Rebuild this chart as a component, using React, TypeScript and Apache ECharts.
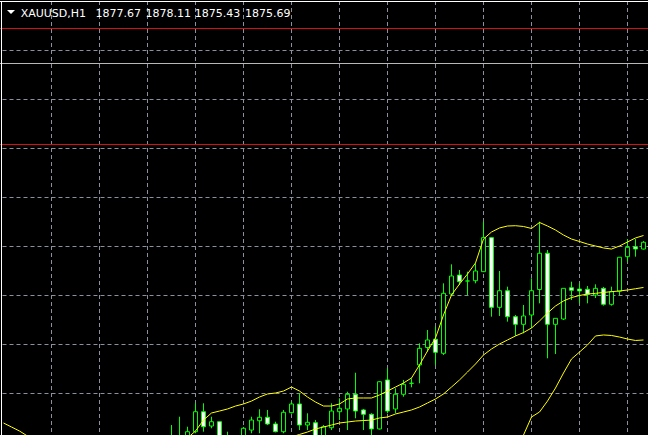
import React, { useEffect, useRef } from "react";
import * as echarts from "echarts";

// ---- data -------------------------------------------------------------
const symbolLabel = "XAUUSD,H1";
const lastBarOHLC = ["1877.67", "1878.11", "1875.43", "1875.69"];

// 81 hourly bars (index 0..80); null = bar lies completely below the visible range
const categories: string[] = Array.from({ length: 81 }, (_, i) => "bar " + i);

const opens: (number | null)[] = [
  null, null, null, null, null, null, null, null, null, null,
  null, null, null, null, null, null, null, null, null, null,
  null, 1860.51, 1860.51, 1860.2, 1861.05, 1863.09, 1861.63, 1862.07, 1859.69, null,
  1860.2, 1861.22, 1862.17, 1862.52, 1861.84, 1861.05, 1862.99, 1863.88, 1861.73, 1861.97,
  1860.41, 1861.46, 1863.09, 1863.37, 1864.87, 1863.27, 1862.83, 1861.33, 1866.33, 1863.37,
  1864.87, 1865.99, 1867.86, 1869.64, 1870.48, 1869.05, 1875.1, 1877.04, 1876.43, 1876.46,
  1877.38, 1880.85, 1873.74, 1875.44, 1872.79, 1872.01, 1872.96, 1875.56, 1879.26, 1872.01,
  1872.55, 1875.74, 1875.61, 1875.58, 1875.0, 1875.68, 1874.05, 1875.39, 1878.91, 1879.93,
  1879.69,
];
const closes: (number | null)[] = [
  null, null, null, null, null, null, null, null, null, null,
  null, null, null, null, null, null, null, null, null, null,
  null, 1859.59, 1859.59, 1861.05, 1863.09, 1861.56, 1862.07, 1860.2, 1860.41, null,
  1861.4, 1862.24, 1862.52, 1861.84, 1861.05, 1863.03, 1863.88, 1861.73, 1862.01, 1860.51,
  1861.56, 1863.16, 1863.44, 1864.87, 1863.16, 1862.83, 1861.33, 1866.15, 1863.16, 1864.87,
  1865.89, 1865.99, 1869.56, 1870.41, 1869.15, 1875.17, 1876.94, 1876.36, 1876.43, 1877.45,
  1880.85, 1873.74, 1875.44, 1872.79, 1872.01, 1872.86, 1875.44, 1879.26, 1872.01, 1872.62,
  1875.68, 1875.48, 1875.41, 1875.07, 1875.68, 1874.05, 1875.34, 1878.85, 1879.87, 1879.69,
  1880.38,
];
const lows: (number | null)[] = [
  null, null, null, null, null, null, null, null, null, null,
  null, null, null, null, null, null, null, null, null, null,
  null, 1859.18, 1859.18, 1859.8, 1860.89, 1861.05, 1861.4, 1859.69, 1859.39, null,
  1859.8, 1860.89, 1860.89, 1861.73, 1860.99, 1860.89, 1862.91, 1861.22, 1861.22, 1860.2,
  1860.2, 1861.22, 1862.24, 1861.22, 1862.42, 1861.22, 1860.71, 1861.28, 1862.93, 1862.93,
  1864.62, 1865.58, 1865.99, 1869.21, 1867.86, 1868.88, 1875.0, 1876.02, 1875.0, 1876.19,
  1877.35, 1872.79, 1872.86, 1872.28, 1870.82, 1871.09, 1871.63, 1874.15, 1868.54, 1868.98,
  1872.45, 1874.49, 1874.15, 1874.15, 1874.69, 1873.91, 1873.91, 1875.0, 1878.4, 1878.91,
  1879.64,
];
const highs: (number | null)[] = [
  null, null, null, null, null, null, null, null, null, null,
  null, null, null, null, null, null, null, null, null, null,
  null, 1861.73, 1862.58, 1861.56, 1863.95, 1863.95, 1862.58, 1862.1, 1861.05, null,
  1861.53, 1862.58, 1863.34, 1863.27, 1862.07, 1863.27, 1864.11, 1864.97, 1862.93, 1862.24,
  1861.73, 1863.95, 1864.46, 1865.13, 1867.07, 1863.37, 1862.93, 1866.22, 1867.52, 1865.48,
  1866.33, 1866.5, 1870.07, 1871.43, 1871.76, 1876.19, 1878.13, 1877.55, 1877.38, 1878.23,
  1882.48, 1880.89, 1877.45, 1875.85, 1872.96, 1873.98, 1876.7, 1882.48, 1879.59, 1872.62,
  1875.68, 1876.36, 1876.19, 1875.92, 1876.09, 1875.82, 1875.85, 1878.85, 1880.71, 1880.71,
  1880.51,
];

// Bollinger bands
const upperBand: (number | null)[] = [
  1861.94, 1861.53, 1861.12, 1860.61, null, null, null, null, null, null,
  null, null, null, null, null, null, null, null, null, null,
  null, null, null, 1860.41, 1861.12, 1862.24, 1862.96, 1863.16, 1863.37, 1863.67,
  1863.88, 1864.18, 1864.59, 1864.9, 1865.0, 1865.2, 1865.61, 1865.2, 1864.59, 1864.08,
  1863.67, 1863.67, 1863.88, 1864.39, 1864.49, 1864.49, 1864.49, 1864.8, 1865.2, 1865.61,
  1866.02, 1866.53, 1867.86, 1869.29, 1870.61, 1872.96, 1875.0, 1876.12, 1877.14, 1878.27,
  1880.71, 1881.43, 1881.84, 1882.04, 1882.07, 1881.99, 1881.79, 1882.4, 1882.04, 1881.63,
  1881.12, 1880.71, 1880.46, 1880.2, 1880.0, 1879.8, 1879.69, 1880.0, 1880.41, 1880.82,
  1881.07,
];
const middleBand: (number | null)[] = [
  null, null, null, null, null, null, null, null, null, null,
  null, null, null, null, null, null, null, null, null, null,
  null, null, null, null, null, null, null, null, null, null,
  null, null, null, null, 1859.9, 1860.2, 1860.51, 1860.77, 1861.02, 1861.33,
  1861.53, 1861.73, 1861.94, 1862.04, 1862.14, 1862.19, 1862.24, 1862.45, 1862.55, 1862.86,
  1863.06, 1863.27, 1863.57, 1863.98, 1864.39, 1864.9, 1865.61, 1866.33, 1867.14, 1867.96,
  1868.88, 1869.49, 1870.0, 1870.41, 1870.82, 1871.17, 1871.63, 1872.35, 1873.16, 1873.88,
  1874.39, 1874.74, 1874.95, 1875.1, 1875.17, 1875.26, 1875.34, 1875.41, 1875.51, 1875.64,
  1875.77,
];
const lowerBand: (number | null)[] = [
  null, null, null, null, null, null, null, null, null, null,
  null, null, null, null, null, null, null, null, null, null,
  null, null, null, null, null, null, null, null, null, null,
  null, null, null, null, null, null, null, null, null, null,
  null, null, null, null, null, null, null, null, null, null,
  null, null, null, null, null, null, null, null, null, null,
  null, null, null, null, 1858.98, 1860.71, 1862.55, 1863.06, 1864.18, 1865.51,
  1867.04, 1868.47, 1869.18, 1869.9, 1870.82, 1870.92, 1870.87, 1870.71, 1870.51, 1870.36,
  1870.41,
];

// horizontal price levels drawn on the chart
const redLevels = [1902.194, 1890.357];
const greyLevels = [1898.622];

// ---- styling ----------------------------------------------------------
const GRID_COLOR = "#8a909c";
const BULL_BEAR_LINE = "#00ff00";
const BAND_COLOR = "#ffff00";
const RED = "#d41010";
const GREY = "#b8b8b8";
const titleXs = [95.5, 145.5, 194.8, 245];

const EMPTY = ["-", "-", "-", "-"];

function buildOption() {
  // one empty category at each end, so the grid spans the whole picture
  const cats = ["pad-l", ...categories, "pad-r"];
  const candleData = [
    EMPTY,
    ...opens.map((o, i) =>
      o == null ? EMPTY : [o, closes[i], lows[i], highs[i]]
    ),
    EMPTY,
  ];
  const line = (arr: (number | null)[]) => ["-", ...arr.map((v) => (v == null ? "-" : v)), "-"];
  const bandSeries = (data: (number | null)[]) => ({
    type: "line",
    data: line(data),
    symbol: "none",
    silent: true,
    connectNulls: false,
    lineStyle: { color: BAND_COLOR, width: 1 },
    z: 4,
  });

  return {
    animation: false,
    backgroundColor: "#000000",
    grid: {
      left: -4.5,
      right: -3.5,
      top: -48,
      bottom: -56,
      containLabel: false,
      outerBoundsMode: "none",
    },
    xAxis: {
      type: "category",
      data: cats,
      boundaryGap: false,
      axisLine: { show: false },
      axisTick: { show: false },
      axisLabel: { show: false },
      splitLine: {
        show: true,
        interval: (idx: number) => idx > 1 && (idx - 1) % 6 === 0,
        lineStyle: { color: GRID_COLOR, width: 1, type: [4, 3] },
      },
    },
    yAxis: {
      type: "value",
      min: 1855,
      max: 1910,
      interval: 5,
      axisLine: { show: false },
      axisTick: { show: false },
      axisLabel: { show: false },
      splitLine: {
        show: true,
        lineStyle: { color: GRID_COLOR, width: 1, type: [4, 3] },
      },
    },
    series: [
      {
        type: "candlestick",
        data: candleData,
        barWidth: 4,
        silent: true,
        z: 3,
        itemStyle: {
          color: "#000000",
          color0: "#ffffff",
          borderColor: BULL_BEAR_LINE,
          borderColor0: BULL_BEAR_LINE,
          borderWidth: 1,
        },
        markLine: {
          silent: true,
          symbol: ["none", "none"],
          label: { show: false },
          data: [
            ...redLevels.map((v) => ({
              yAxis: v,
              lineStyle: { color: RED, width: 1, type: "solid" },
            })),
            ...greyLevels.map((v) => ({
              yAxis: v,
              lineStyle: { color: GREY, width: 1, type: "solid" },
            })),
          ],
        },
      },
      bandSeries(upperBand),
      bandSeries(middleBand),
      bandSeries(lowerBand),
    ],
    graphic: [
      {
        type: "line",
        silent: true,
        z: 100,
        shape: { x1: 0, y1: 1.5, x2: 648, y2: 1.5 },
        style: { stroke: "#ffffff", lineWidth: 1 },
      },
      {
        type: "line",
        silent: true,
        z: 100,
        shape: { x1: 1.5, y1: 1, x2: 1.5, y2: 435 },
        style: { stroke: "#ffffff", lineWidth: 1 },
      },
      {
        type: "polygon",
        silent: true,
        z: 100,
        shape: { points: [[7, 10], [15, 10], [11, 14]] },
        style: { fill: "#ffffff" },
      },
      {
        type: "text",
        silent: true,
        z: 100,
        x: 20.7,
        y: 13,
        style: {
          text: symbolLabel,
          fill: "#ffffff",
          fontSize: 11,
          fontFamily: "DejaVu Sans",
          verticalAlign: "middle",
        },
      },
      ...lastBarOHLC.map((t, i) => ({
        type: "text",
        silent: true,
        z: 100,
        x: titleXs[i],
        y: 13,
        style: {
          text: t,
          fill: "#ffffff",
          fontSize: 11,
          fontFamily: "DejaVu Sans",
          verticalAlign: "middle",
        },
      })),
    ],
  };
}

export default function App() {
  const ref = useRef<HTMLDivElement>(null);
  useEffect(() => {
    if (!ref.current) return;
    const chart = echarts.init(ref.current, undefined, { renderer: "svg" });
    chart.setOption(buildOption() as any);
    return () => chart.dispose();
  }, []);
  return (
    <div
      ref={ref}
      style={{
        position: "absolute",
        left: 0,
        top: 0,
        width: 648,
        height: 435,
        background: "#000000",
      }}
    />
  );
}
